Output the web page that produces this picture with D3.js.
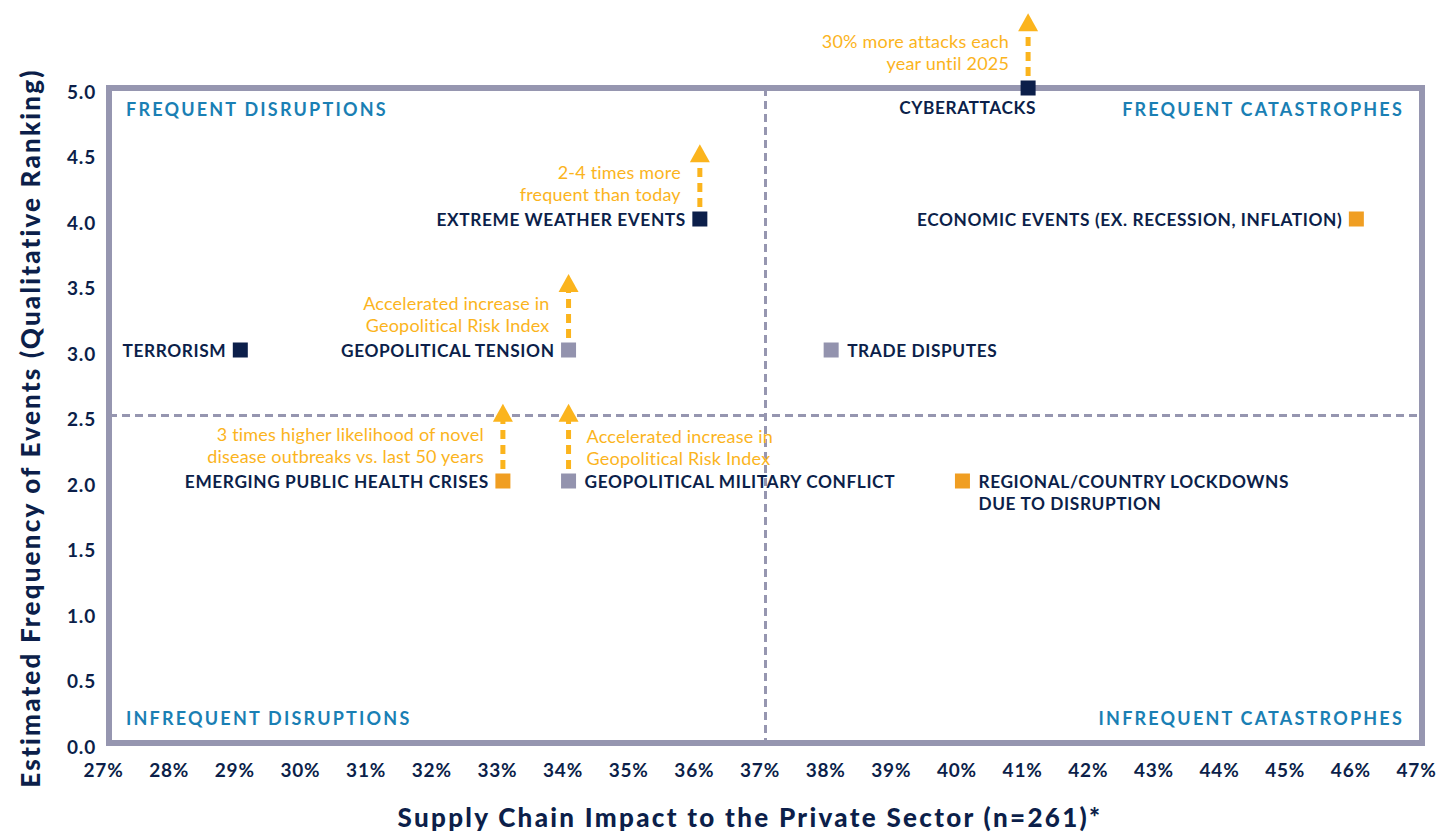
<!DOCTYPE html>
<html>
<head>
<meta charset="utf-8">
<script src="https://cdn.jsdelivr.net/npm/d3@7"></script>
<style>
  body { margin: 0; background: #fff; }
  svg text { font-family: Lato, "Noto Sans", sans-serif; }
</style>
</head>
<body>
<div id="chart"></div>
<script>
// datos
const riesgos = ["CYBERATTACKS", "EXTREME WEATHER EVENTS", "ECONOMIC EVENTS (EX. RECESSION, INFLATION)",
  "TERRORISM", "GEOPOLITICAL TENSION", "TRADE DISPUTES", "EMERGING PUBLIC HEALTH CRISES",
  "GEOPOLITICAL MILITARY CONFLICT", "REGIONAL/COUNTRY LOCKDOWNS|DUE TO DISRUPTION"];
const impacto = [41, 36, 46, 29, 34, 38, 33, 34, 40];
const frecuencia = [5, 4, 4, 3, 3, 3, 2, 2, 2];
const grupo = ["navy", "navy", "orange", "navy", "gray", "gray", "orange", "gray", "orange"];
const ladoEtiqueta = ["below", "left", "left", "left", "left", "right", "left", "right", "right"];
// flechas de tendencia: hasta dónde suben
const flechaHasta = [5.57, 4.57, null, null, 3.58, null, 2.59, 2.59, null];
const notas = ["30% more attacks each|year until 2025", "2-4 times more|frequent than today", null, null,
  "Accelerated increase in|Geopolitical Risk Index", null,
  "3 times higher likelihood of novel|disease outbreaks vs. last 50 years",
  "Accelerated increase in|Geopolitical Risk Index", null];
const ladoNota = ["left", "left", null, null, "left", null, "left", "right", null];

const xTicks = d3.range(27, 48, 1);
const yTicks = d3.range(0, 5.01, 0.5);
const cuadrantes = [
  {t: "FREQUENT DISRUPTIONS", x: 27, y: 5, a: "start"},
  {t: "FREQUENT CATASTROPHES", x: 47, y: 5, a: "end"},
  {t: "INFREQUENT DISRUPTIONS", x: 27, y: 0, a: "start"},
  {t: "INFREQUENT CATASTROPHES", x: 47, y: 0, a: "end"}
];

const colores = {navy: "#0c1f4a", gray: "#9393ae", orange: "#f09e22"};
const naranja = "#fbb41d";
const marco = "#9696b0";
const azulTexto = "#0c1f4a";

const width = 1450, height = 832;
const svg = d3.select("#chart").append("svg")
  .attr("width", width).attr("height", height);

const x = d3.scaleLinear().domain([27, 47]).range([109, 1422]);
const y = d3.scaleLinear().domain([0, 5]).range([743, 88]);

// líneas de cuadrante
svg.append("line")
  .attr("x1", x(37)).attr("x2", x(37)).attr("y1", y(5)).attr("y2", y(0))
  .attr("stroke", marco).attr("stroke-width", 3).attr("stroke-dasharray", "8,5");
svg.append("line")
  .attr("x1", x(27)).attr("x2", x(47)).attr("y1", y(2.5)).attr("y2", y(2.5))
  .attr("stroke", marco).attr("stroke-width", 3).attr("stroke-dasharray", "8,5");

// marco
svg.append("rect")
  .attr("x", x(27)).attr("y", y(5))
  .attr("width", x(47) - x(27)).attr("height", y(0) - y(5))
  .attr("fill", "none").attr("stroke", marco).attr("stroke-width", 6);

// ejes
const gx = svg.append("g")
  .attr("transform", `translate(-6,${y(0)})`)
  .call(d3.axisBottom(x).tickValues(xTicks).tickFormat(d => d + "%").tickSize(0).tickPadding(21));
const gy = svg.append("g")
  .attr("transform", `translate(${x(27) - 13},4)`)
  .call(d3.axisLeft(y).tickValues(yTicks).tickFormat(d3.format(".1f")).tickSize(0).tickPadding(0));
[gx, gy].forEach(g => {
  g.select(".domain").remove();
  g.selectAll("text").attr("fill", azulTexto)
    .style("font-size", "19px").style("font-weight", 700).style("letter-spacing", "0.8px");
});

svg.append("text")
  .attr("x", 750).attr("y", 827)
  .attr("text-anchor", "middle")
  .attr("fill", azulTexto)
  .style("font-size", "26px").style("font-weight", 900).style("letter-spacing", "2.3px")
  .text("Supply Chain Impact to the Private Sector (n=261)*");

svg.append("text")
  .attr("transform", "translate(40,428) rotate(-90)")
  .attr("text-anchor", "middle")
  .attr("fill", azulTexto)
  .style("font-size", "26px").style("font-weight", 900).style("letter-spacing", "2.2px")
  .text("Estimated Frequency of Events (Qualitative Ranking)");

// etiquetas de cuadrante
svg.selectAll(".cuadrante").data(cuadrantes).enter().append("text")
  .attr("class", "cuadrante")
  .attr("x", d => x(d.x) + (d.a === "start" ? 17 : -18))
  .attr("y", d => d.y === 5 ? y(5) + 28 : y(0) - 18)
  .attr("text-anchor", d => d.a)
  .attr("fill", "#1a7fb4")
  .style("font-size", "18px").style("font-weight", 700).style("letter-spacing", "2.2px")
  .text(d => d.t);

const idx = d3.range(riesgos.length);

// flechas
const conFlecha = idx.filter(i => flechaHasta[i] != null);
svg.selectAll(".flecha").data(conFlecha).enter().append("line")
  .attr("x1", i => x(impacto[i])).attr("x2", i => x(impacto[i]))
  .attr("y1", i => y(frecuencia[i]) - 12).attr("y2", i => y(flechaHasta[i]) + 16)
  .attr("stroke", naranja).attr("stroke-width", 5).attr("stroke-dasharray", "9,6");
svg.selectAll(".punta").data(conFlecha).enter().append("path")
  .attr("d", i => {
    const cx = x(impacto[i]), ty = y(flechaHasta[i]);
    return `M${cx},${ty} L${cx + 10},${ty + 18} L${cx - 10},${ty + 18} Z`;
  })
  .attr("fill", naranja);

// notas de tendencia
idx.filter(i => notas[i]).forEach(i => {
  const izq = ladoNota[i] === "left";
  const cx = x(impacto[i]) + (izq ? -19 : 18);
  const base = ladoNota[i] === "right" ? y(frecuencia[i]) - 38 : y(frecuencia[i]) - 40;
  const t = svg.append("text")
    .attr("text-anchor", izq ? "end" : "start")
    .attr("fill", naranja)
    .style("font-size", "18px").style("letter-spacing", "0.2px");
  notas[i].split("|").forEach((linea, k) => {
    t.append("tspan").attr("x", cx).attr("y", base + k * 22).text(linea);
  });
});

// marcadores
svg.selectAll(".punto").data(idx).enter().append("rect")
  .attr("x", i => x(impacto[i]) - 7.5)
  .attr("y", i => y(frecuencia[i]) - 7.5)
  .attr("width", 15).attr("height", 15)
  .attr("fill", i => colores[grupo[i]]);

// etiquetas de los riesgos
idx.forEach(i => {
  const lado = ladoEtiqueta[i];
  let px = x(impacto[i]), py = y(frecuencia[i]) + 7, anchor = "end";
  if (lado === "left") px -= 14;
  if (lado === "right") { px += 16; anchor = "start"; }
  if (lado === "below") { px += 8; py += 19; }
  const t = svg.append("text")
    .attr("text-anchor", anchor)
    .attr("fill", azulTexto)
    .style("font-size", "17.3px").style("font-weight", 700).style("letter-spacing", "0.6px");
  riesgos[i].split("|").forEach((linea, k) => {
    t.append("tspan").attr("x", px).attr("y", py + k * 22).text(linea);
  });
});
</script>
</body>
</html>
